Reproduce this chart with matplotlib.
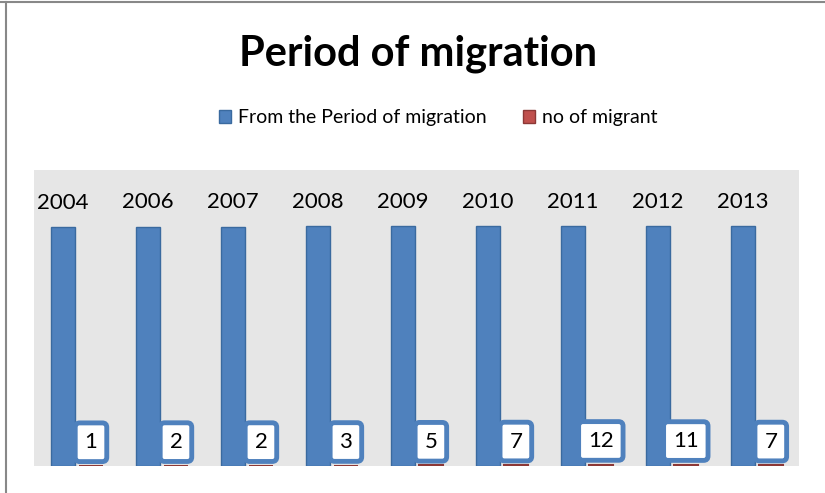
import numpy as np
import matplotlib.pyplot as plt
from matplotlib.lines import Line2D
from matplotlib.patches import Patch

# chart data
years = ["2004", "2006", "2007", "2008", "2009", "2010", "2011", "2012", "2013"]
period_values = [2004, 2006, 2007, 2008, 2009, 2010, 2011, 2012, 2013]
migrant_values = [1, 2, 2, 3, 5, 7, 12, 11, 7]

plt.rcParams['font.family'] = ['Lato', 'DejaVu Sans']

blue = '#4F81BD'
blue_edge = '#3A6A9F'
red = '#C0504D'
red_edge = '#8C3836'

fig = plt.figure(figsize=(8.25, 4.93), dpi=100)
ax = fig.add_axes([0.0418, 0.0548, 0.927, 0.600])
ax.set_facecolor('#E6E6E6')

x = np.arange(len(years))
w = 0.28
off = 0.165
ax.bar(x - off, period_values, width=w, color=blue, edgecolor=blue_edge, linewidth=1)
ax.bar(x + off, migrant_values, width=w, color=red, edgecolor=red_edge, linewidth=1.5)

# year labels above blue bars
for xi, v, lab in zip(x, period_values, years):
    ax.annotate(lab, (xi - off, v), xytext=(0, 17.5), textcoords='offset points',
                ha='center', va='center', fontsize=16)

# boxed labels above the red bars
for xi, v in zip(x, migrant_values):
    ax.annotate(str(v), (xi + off, v), xytext=(0, 17), textcoords='offset points',
                ha='center', va='center', fontsize=16,
                bbox=dict(boxstyle='round,pad=0.42,rounding_size=0.2', fc='white', ec=blue, lw=3.5))

ax.set_xlim(-0.5, len(years) - 0.5)
ax.set_ylim(0, 2480)
ax.set_xticks([])
ax.set_yticks([])
for s in ax.spines.values():
    s.set_visible(False)

fig.text(0.507, 0.89, 'Period of migration', ha='center', va='center',
         fontsize=30, fontweight='bold')

handles = [Patch(facecolor=blue, edgecolor=blue_edge), Patch(facecolor=red, edgecolor=red_edge)]
fig.legend(handles, ['From the Period of migration', 'no of migrant'], loc='center',
           bbox_to_anchor=(0.531, 0.761), ncol=2, frameon=False, fontsize=14,
           handlelength=0.6, handleheight=0.6, handletextpad=0.35, columnspacing=1.9)

# outer chart border (only top and left visible in the crop)
fig.add_artist(Line2D([0, 1], [0.995, 0.995], color='#888888', lw=1.5, transform=fig.transFigure))
fig.add_artist(Line2D([0.0075, 0.0075], [0, 0.995], color='#888888', lw=1.5, transform=fig.transFigure))

fig.savefig('out.png', dpi=100)
